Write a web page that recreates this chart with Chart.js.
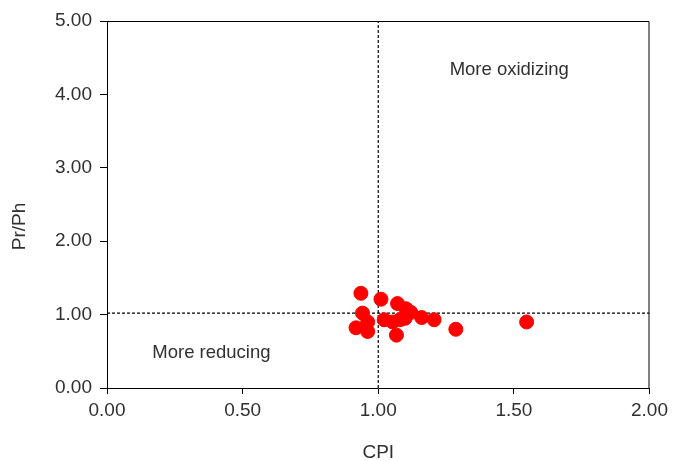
<!DOCTYPE html>
<html>
<head>
<meta charset="utf-8">
<script src="https://cdn.jsdelivr.net/npm/chart.js@4.4.0/dist/chart.umd.min.js"></script>
<style>
  body { margin: 0; background: #fff; }
  #wrap { width: 673px; height: 461px; }
</style>
</head>
<body>
<div id="wrap"><canvas id="myChart" width="673" height="461"></canvas></div>
<script>
// CPI vs Pr/Ph values
var cpi  = [0.936, 1.010, 1.071, 0.942, 1.102, 1.120, 0.961, 0.918, 0.961, 1.022, 1.053, 1.099, 1.160, 1.206, 1.067, 1.286, 1.547, 1.080];
var prph = [1.29, 1.21, 1.15, 1.02, 1.08, 1.03, 0.90, 0.82, 0.77, 0.93, 0.90, 0.95, 0.96, 0.93, 0.72, 0.80, 0.90, 0.93];
var xTicks = [0, 0.5, 1, 1.5, 2];
var yTicks = [0, 1, 2, 3, 4, 5];
var cutX = 1.0, cutY = 1.02;
var notes = [
    {text: 'More oxidizing', x: 1.483, y: 4.33},
    {text: 'More reducing', x: 0.385, y: 0.48}
];
var yTitle = 'Pr/Ph';

var FONT = '"Liberation Sans", Arial, sans-serif';
var TXT = '#303030';

var pts = [];
for (var i = 0; i < cpi.length; i++) {
    pts.push({x: cpi[i], y: prph[i]});
}

var frameAndNotes = {
    id: 'frameAndNotes',
    afterDraw: function(chart) {
        var c = chart.ctx, a = chart.chartArea;
        var xs = chart.scales.x, ys = chart.scales.y;
        c.save();
        c.strokeStyle = '#000';
        c.lineWidth = 1;
        c.beginPath();
        c.moveTo(a.left, a.top + 0.5);
        c.lineTo(a.right - 0.5, a.top + 0.5);
        c.lineTo(a.right - 0.5, a.bottom);
        c.stroke();
        c.fillStyle = TXT;
        c.font = '18.5px ' + FONT;
        c.textAlign = 'center';
        c.textBaseline = 'middle';
        for (var j = 0; j < notes.length; j++) {
            c.fillText(notes[j].text, xs.getPixelForValue(notes[j].x), ys.getPixelForValue(notes[j].y));
        }
        // y axis title, sits a little below the middle in the original
        c.font = '19px ' + FONT;
        c.translate(20, ys.getPixelForValue(2.2));
        c.rotate(-Math.PI / 2);
        c.fillText(yTitle, 0, 0);
        c.restore();
    }
};

var ctx = document.getElementById('myChart').getContext('2d');
var myChart = new Chart(ctx, {
    type: 'scatter',
    data: {
        datasets: [
            {
                label: 'samples',
                data: pts,
                backgroundColor: '#ff0000',
                borderColor: '#ff0000',
                pointRadius: 7,
                order: 1
            },
            {
                label: 'CPI = 1',
                data: [{x: cutX, y: 0}, {x: cutX, y: 5}],
                showLine: true,
                borderColor: '#000',
                borderWidth: 1.2,
                borderDash: [3, 2],
                pointRadius: 0,
                order: 2
            },
            {
                label: 'Pr/Ph = 1',
                data: [{x: 0, y: cutY}, {x: 2, y: cutY}],
                showLine: true,
                borderColor: '#000',
                borderWidth: 1.2,
                borderDash: [3, 2],
                pointRadius: 0,
                order: 2
            }
        ]
    },
    options: {
        responsive: false,
        animation: false,
        layout: { padding: { left: 0, right: 22, top: 21, bottom: 0 } },
        plugins: {
            legend: { display: false },
            tooltip: { enabled: false }
        },
        scales: {
            x: {
                type: 'linear',
                min: 0,
                max: 2,
                afterBuildTicks: function(s) { s.ticks = xTicks.map(function(v) { return {value: v}; }); },
                afterFit: function(s) { s.height = 73; },
                grid: { drawOnChartArea: false, tickLength: 6, color: '#000' },
                border: { color: '#000', width: 1 },
                ticks: {
                    color: TXT,
                    font: { family: FONT, size: 19 },
                    padding: 5,
                    callback: function(v) { return v.toFixed(2); }
                },
                title: {
                    display: true,
                    text: 'CPI',
                    color: TXT,
                    font: { family: FONT, size: 19 },
                    padding: { top: 0, bottom: -3 }
                }
            },
            y: {
                type: 'linear',
                min: 0,
                max: 5,
                afterBuildTicks: function(s) { s.ticks = yTicks.map(function(v) { return {value: v}; }); },
                afterFit: function(s) { s.width = 107; },
                grid: { drawOnChartArea: false, tickLength: 7, color: '#000' },
                border: { color: '#000', width: 1 },
                ticks: {
                    color: TXT,
                    font: { family: FONT, size: 19 },
                    padding: 8,
                    callback: function(v) { return v.toFixed(2); }
                }
            }
        }
    },
    plugins: [frameAndNotes]
});
</script>
</body>
</html>
